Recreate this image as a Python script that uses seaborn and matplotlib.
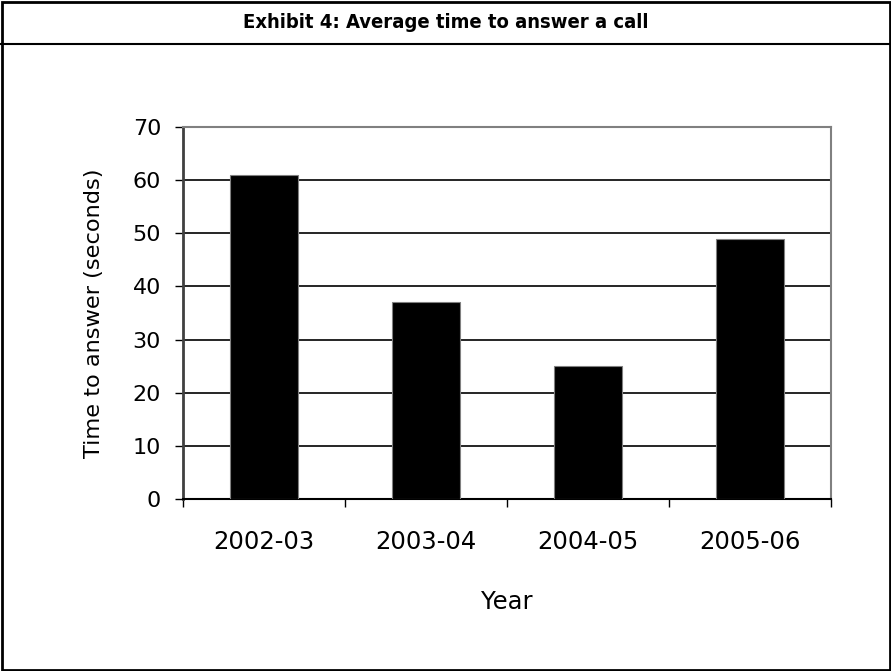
import matplotlib
matplotlib.use("Agg")
import matplotlib.pyplot as plt
import seaborn as sns
import pandas as pd
from matplotlib.patches import Rectangle
from matplotlib.lines import Line2D

years = ["2002-03", "2003-04", "2004-05", "2005-06"]
seconds = [61, 37, 25, 49]
y_ticks = [0, 10, 20, 30, 40, 50, 60, 70]

df = pd.DataFrame({"Year": years, "Seconds": seconds})

sns.set_theme(style="white")
plt.rcParams["font.family"] = ["DejaVu Sans"]
for key in ["text.color", "axes.labelcolor", "xtick.color", "ytick.color"]:
    plt.rcParams[key] = "black"

W, H = 891, 671
fig = plt.figure(figsize=(W / 100, H / 100), dpi=100)
ax = fig.add_axes([183 / W, 1 - 499 / H, (831 - 183) / W, (499 - 127) / H])

sns.barplot(data=df, x="Year", y="Seconds", color="black", width=0.42,
            edgecolor="#808080", linewidth=0.8, saturation=1, ax=ax, zorder=3)

ax.set_ylim(0, 70)
ax.set_xlim(-0.5, len(years) - 0.5)
ax.set_yticks(y_ticks)
ax.set_yticklabels([str(v) for v in y_ticks], fontsize=16)
ax.yaxis.grid(True, color="black", linewidth=1.2, zorder=0)
ax.set_axisbelow(True)
ax.tick_params(axis="y", which="major", direction="out", length=5.8, width=1,
               left=True, pad=10)

ax.set_xticks(range(len(years)))
ax.set_xticklabels(years, fontsize=17.5)
ax.tick_params(axis="x", which="major", length=0, pad=22)
ax.set_xticks([i - 0.5 for i in range(len(years) + 1)], minor=True)
ax.tick_params(axis="x", which="minor", direction="out", length=5.8, width=1, bottom=True)

ax.set_xlabel("Year", fontsize=17.5, va="top")
ax.xaxis.set_label_coords(0.5, -0.245)
ax.set_ylabel("Time to answer (seconds)", fontsize=16.2)
ax.yaxis.set_label_coords(-0.122, 0.5)

for side in ["top", "right"]:
    ax.spines[side].set_visible(True)
    ax.spines[side].set_color("#808080")
    ax.spines[side].set_linewidth(1.5)
ax.spines["left"].set_color("#404040")
ax.spines["left"].set_linewidth(2)
ax.spines["bottom"].set_color("black")
ax.spines["bottom"].set_linewidth(1.5)

# Outer frame and title band
fig.add_artist(Rectangle((1.5 / W, 1.5 / H), (W - 3) / W, (H - 3) / H, transform=fig.transFigure,
                         fill=False, edgecolor="black", linewidth=2))
fig.add_artist(Line2D([0, 1], [1 - 44 / H, 1 - 44 / H], transform=fig.transFigure,
                      color="black", linewidth=1.5))
fig.text(0.5, 1 - 23 / H, "Exhibit 4: Average time to answer a call", ha="center", va="center",
         fontsize=14.5, fontweight="bold", fontstretch="condensed")

fig.savefig("out.png", dpi=100)
